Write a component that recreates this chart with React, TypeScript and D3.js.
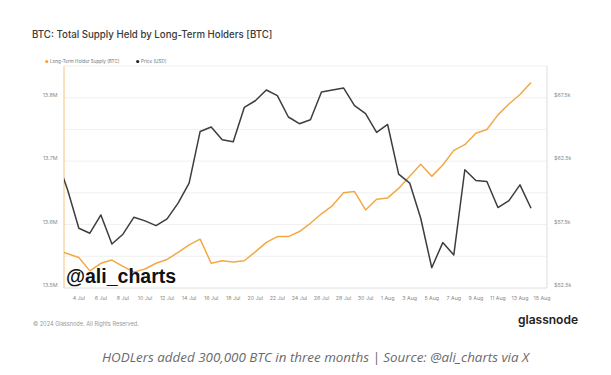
import React from "react";
import * as d3 from "d3";

const dates = [
  "2024-07-02","2024-07-03","2024-07-04","2024-07-05","2024-07-06","2024-07-07","2024-07-08","2024-07-09","2024-07-10","2024-07-11","2024-07-12",
  "2024-07-13","2024-07-14","2024-07-15","2024-07-16","2024-07-17","2024-07-18","2024-07-19","2024-07-20","2024-07-21","2024-07-22",
  "2024-07-23","2024-07-24","2024-07-25","2024-07-26","2024-07-27","2024-07-28","2024-07-29","2024-07-30","2024-07-31","2024-08-01",
  "2024-08-02","2024-08-03","2024-08-04","2024-08-05","2024-08-06","2024-08-07","2024-08-08","2024-08-09","2024-08-10","2024-08-11",
  "2024-08-12","2024-08-13","2024-08-14",
];

// Long-Term Holder supply, millions BTC
const lthSupply = [
  13.560, 13.554, 13.548, 13.527, 13.539, 13.544, 13.534, 13.525, 13.530, 13.539, 13.545,
  13.556, 13.568, 13.577, 13.539, 13.543, 13.541, 13.543, 13.557, 13.572, 13.581,
  13.581, 13.589, 13.602, 13.617, 13.630, 13.650, 13.652, 13.623, 13.640, 13.642,
  13.657, 13.676, 13.695, 13.676, 13.694, 13.717, 13.726, 13.744, 13.750, 13.773,
  13.790, 13.805, 13.824,
];

// Price, thousands USD
const price = [
  62.7, 60.18, 57.21, 56.82, 58.26, 55.97, 56.74, 58.08, 57.79, 57.42, 57.95,
  59.19, 60.77, 64.84, 65.19, 64.18, 64.03, 66.73, 67.26, 68.11, 67.66,
  65.98, 65.45, 65.76, 67.95, 68.11, 68.27, 66.87, 66.24, 64.76, 65.39,
  61.48, 60.77, 58.0, 54.1, 56.08, 55.11, 61.82, 60.97, 60.89, 58.84,
  59.39, 60.63, 58.79,
];

const xTickDates = [
  "2024-07-04","2024-07-06","2024-07-08","2024-07-10","2024-07-12","2024-07-14","2024-07-16","2024-07-18","2024-07-20",
  "2024-07-22","2024-07-24","2024-07-26","2024-07-28","2024-07-30","2024-08-01","2024-08-03","2024-08-05","2024-08-07",
  "2024-08-09","2024-08-11","2024-08-13","2024-08-15",
];
const leftTicks = [13.5, 13.6, 13.7, 13.8];
const leftGrid = [13.5, 13.55, 13.6, 13.65, 13.7, 13.75, 13.8];
const rightTicks = [52.5, 57.5, 62.5, 67.5];

const DAY = 86400000;
const parse = (s: string) => new Date(s + "T00:00:00Z");

export default function App() {
  const L = 64, R = 547, T = 66, B = 288;
  const x = d3
    .scaleUtc()
    .domain([new Date(parse("2024-07-03").getTime() - 0.345 * DAY), new Date(parse("2024-08-15").getTime() + 0.45 * DAY)])
    .range([L, R]);
  const yL = d3.scaleLinear().domain([13.5, 13.85]).range([B, T]);
  const yR = d3.scaleLinear().domain([52.5, 70]).range([B, T]);
  const fmtDay = d3.utcFormat("%-d %b");

  const pts = dates.map((d, i) => ({ t: parse(d), s: lthSupply[i], p: price[i] }));
  const supplyLine = d3.line<any>().x((d) => x(d.t)).y((d) => yL(d.s))(pts) || "";
  const priceLine = d3.line<any>().x((d) => x(d.t)).y((d) => yR(d.p))(pts) || "";

  const axisFont = "Inter, 'Liberation Sans', Arial, sans-serif";
  const tickColor = "#8a8a8a";

  return (
    <svg width={611} height={375} style={{ position: "absolute", left: 0, top: 0, background: "#fff" }}>
      <defs>
        <clipPath id="plotClip">
          <rect x={L} y={T - 5} width={R - L} height={B - T + 10} />
        </clipPath>
      </defs>
      <text x={32} y={38.3} fontFamily={axisFont} fontSize={9.7} fontWeight={500} fill="#3a3a3a">
        BTC: Total Supply Held by Long-Term Holders [BTC]
      </text>

      {/* legend */}
      <circle cx={46.7} cy={61.5} r={1.6} fill="#f2a33a" />
      <text x={50} y={63.2} fontFamily={axisFont} fontSize={4.6} fill="#777">Long-Term Holder Supply [BTC]</text>
      <circle cx={137.7} cy={61.5} r={1.6} fill="#222" />
      <text x={141} y={63.2} fontFamily={axisFont} fontSize={4.6} fill="#777">Price [USD]</text>

      {/* grid */}
      {leftGrid.map((v) => (
        <line key={v} x1={L} x2={R} y1={yL(v)} y2={yL(v)} stroke="#ececec" strokeWidth={0.8} />
      ))}
      <line x1={L} x2={R} y1={T} y2={T} stroke="#ececec" strokeWidth={0.8} />
      <line x1={L} x2={R} y1={B} y2={B} stroke="#e2e2e2" strokeWidth={0.8} />
      <line x1={R} x2={R} y1={T} y2={B} stroke="#dcdcdc" strokeWidth={1} />
      <line x1={L} x2={L} y1={T} y2={B} stroke="#f5c47f" strokeWidth={1} />

      {/* left ticks */}
      {leftTicks.map((v) => (
        <text key={v} x={57.5} y={yL(v) - 1} textAnchor="end" fontFamily={axisFont} fontSize={5.3} fill={tickColor}>
          {v.toFixed(1) + "M"}
        </text>
      ))}
      {/* right ticks */}
      {rightTicks.map((v) => (
        <text key={v} x={554} y={yR(v) - 1} fontFamily={axisFont} fontSize={5.3} fill={tickColor}>
          {"$" + v.toFixed(1) + "k"}
        </text>
      ))}
      {/* x ticks */}
      {xTickDates.map((s) => {
        const d = parse(s);
        return (
          <text key={s} x={x(d)} y={299.5} textAnchor="middle" fontFamily={axisFont} fontSize={5.3} fill={tickColor}>
            {fmtDay(d)}
          </text>
        );
      })}

      <g clipPath="url(#plotClip)">
        <path d={supplyLine} fill="none" stroke="#f2a945" strokeWidth={1.5} strokeLinejoin="round" />
        <path d={priceLine} fill="none" stroke="#3d3d3d" strokeWidth={1.5} strokeLinejoin="round" />
      </g>

      <text x={66} y={283} fontFamily="'Liberation Sans', Arial, sans-serif" fontWeight="bold" fontSize={19.5} fill="#111">
        @ali_charts
      </text>

      <text x={33} y={325.5} fontFamily={axisFont} fontSize={5.6} fill="#999">
        © 2024 Glassnode. All Rights Reserved.
      </text>
      <text x={518} y={324} fontFamily={axisFont} fontWeight={600} fontSize={12.3} fill="#222" textLength={60} lengthAdjust="spacingAndGlyphs">
        glassnode
      </text>

      <text x={529} y={362} textAnchor="end" fontFamily="'Open Sans', sans-serif" fontStyle="italic" fontSize={13.4} fill="#6a6a6a">
        HODLers added 300,000 BTC in three months | Source: @ali_charts via X
      </text>
    </svg>
  );
}
